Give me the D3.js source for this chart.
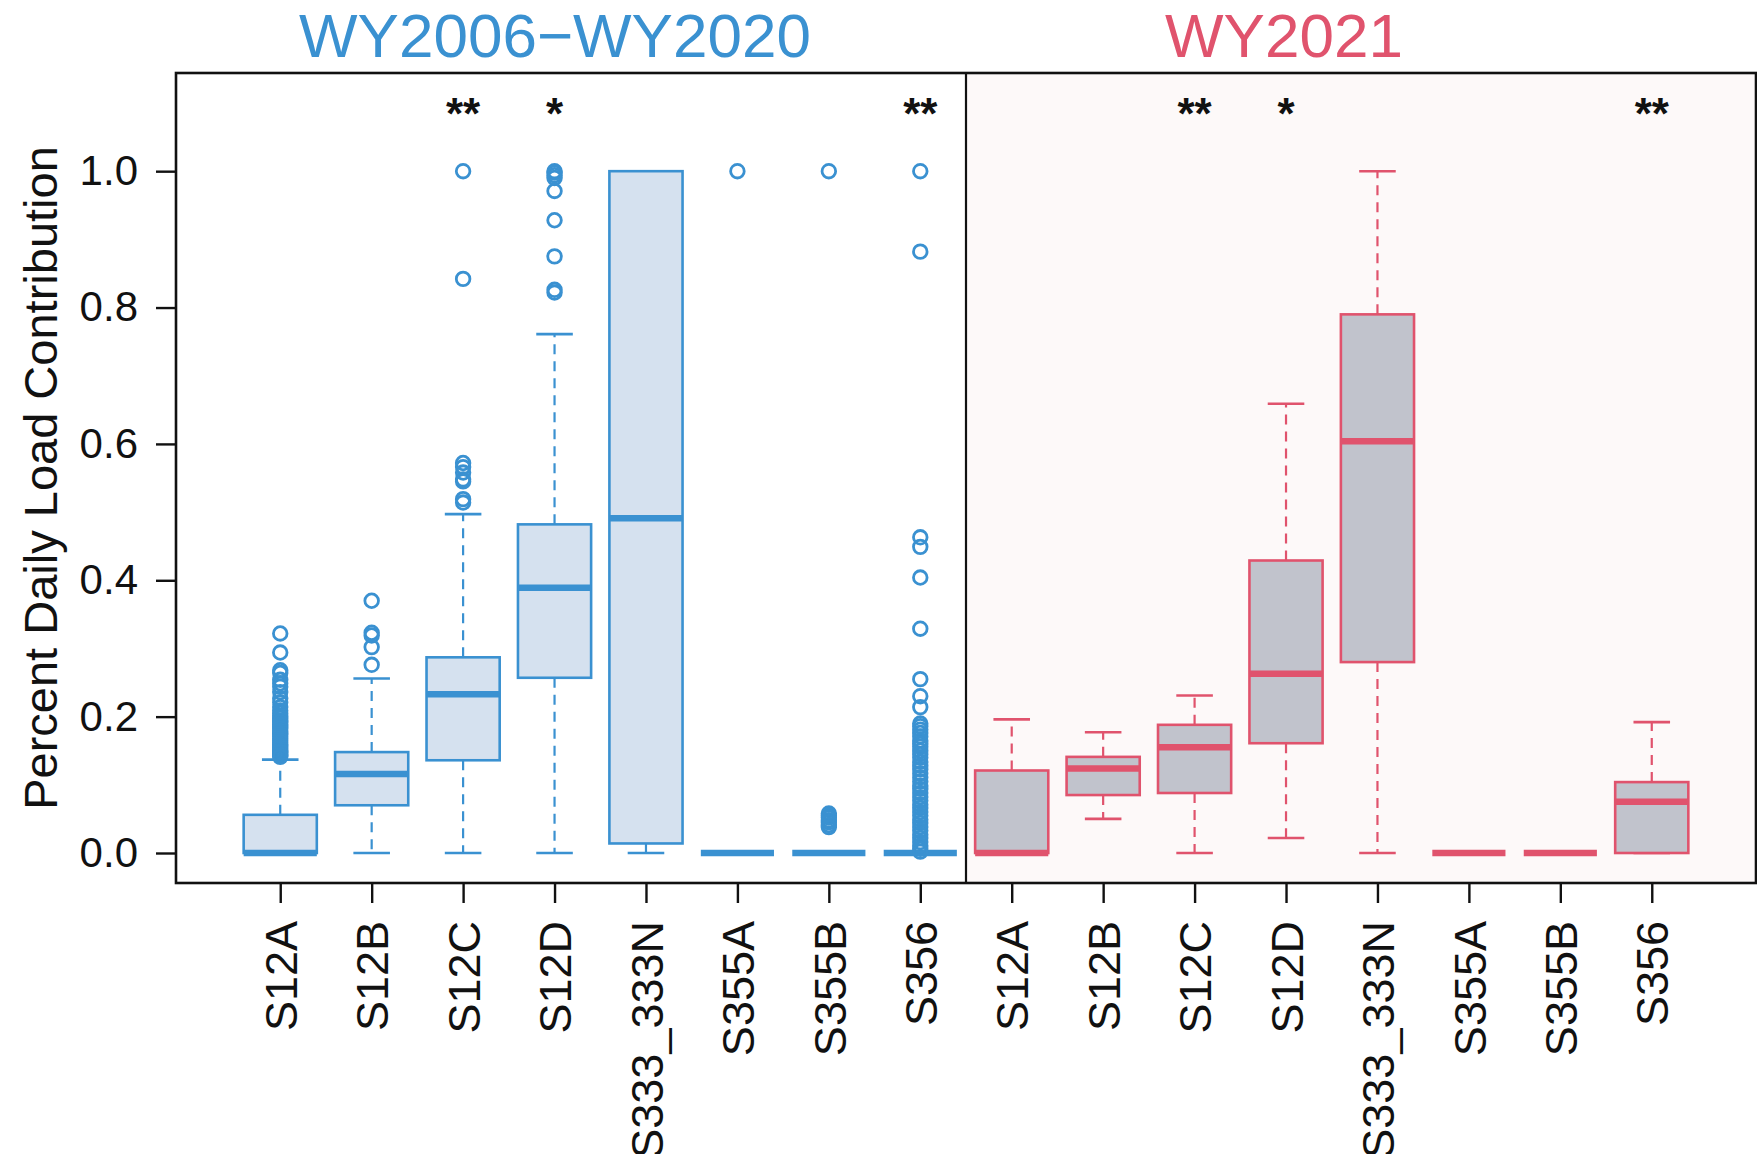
<!DOCTYPE html>
<html>
<head>
<meta charset="utf-8">
<script src="https://cdn.jsdelivr.net/npm/d3@7"></script>
<style>
	body { margin: 0; background: #fff; }
	svg { display: block; }
	text { font-family: "Liberation Sans", Arial, Helvetica, sans-serif; }
</style>
</head>
<body>
<svg id="chart" width="1757" height="1154"></svg>
<script>
// sites shown in each panel
const sites = ["S12A", "S12B", "S12C", "S12D", "S333_333N", "S355A", "S355B", "S356"];
const periods = ["WY2006\u2212WY2020", "WY2021"];

// [lower whisker, Q1, median, Q3, upper whisker]
const statsHist = [
	[0, 0, 0, 0.056, 0.137],
	[0, 0.070, 0.116, 0.148, 0.256],
	[0, 0.136, 0.233, 0.287, 0.497],
	[0, 0.257, 0.389, 0.482, 0.761],
	[0, 0.014, 0.491, 1.0, 1.0],
	[0, 0, 0, 0, 0],
	[0, 0, 0, 0, 0],
	[0, 0, 0, 0, 0]
];
const statsWY2021 = [
	[0, 0, 0, 0.121, 0.196],
	[0.050, 0.085, 0.124, 0.141, 0.177],
	[0, 0.088, 0.155, 0.188, 0.231],
	[0.022, 0.161, 0.263, 0.429, 0.659],
	[0, 0.280, 0.604, 0.790, 1.0],
	[0, 0, 0, 0, 0],
	[0, 0, 0, 0, 0],
	[0, 0, 0.075, 0.104, 0.192]
];

const outliersHist = [
	[0.322, 0.294, 0.268, 0.264, 0.254, 0.249, 0.244, 0.236, 0.227, 0.221, 0.214, 0.209, 0.205, 0.201,
	 0.198, 0.194, 0.192, 0.188, 0.185, 0.183, 0.179, 0.176, 0.174, 0.171, 0.168, 0.165, 0.162, 0.159,
	 0.157, 0.154, 0.151, 0.149, 0.147, 0.145, 0.143, 0.141],
	[0.370, 0.323, 0.319, 0.302, 0.276],
	[1.0, 0.842, 0.572, 0.566, 0.558, 0.548, 0.545, 0.519, 0.514],
	[1.0, 0.998, 0.994, 0.990, 0.971, 0.928, 0.875, 0.826, 0.822],
	[],
	[1.0],
	[1.0, 0.058, 0.055, 0.052, 0.048, 0.045, 0.041, 0.038],
	[1.0, 0.882, 0.463, 0.449, 0.404, 0.329, 0.255, 0.230, 0.214, 0.190, 0.186, 0.181, 0.176, 0.171,
	 0.165, 0.160, 0.156, 0.150, 0.145, 0.140, 0.134, 0.128, 0.123, 0.117, 0.111, 0.105, 0.099, 0.094,
	 0.088, 0.082, 0.077, 0.071, 0.066, 0.060, 0.055, 0.049, 0.044, 0.038, 0.033, 0.027, 0.022, 0.016,
	 0.011, 0.006, 0.002]
];
const outliersWY2021 = [[], [], [], [], [], [], [], []];

// significance marks above each site
const stars = ["", "", "**", "*", "", "", "", "**"];

const yTicks = [0, 0.2, 0.4, 0.6, 0.8, 1.0];

const BLUE = "#3a91d1", BLUE_FILL = "#d5e1ef";
const RED = "#e0536d", RED_FILL = "#c1c3cc";
const PANEL_BG = "#fdf9f9";

const frame = {left: 176, top: 73, right: 1756, bottom: 883};
const n = sites.length;

const x = d3.scaleLinear().domain([-0.14, 2 * n + 1.14]).range([frame.left, frame.right]);
const y = d3.scaleLinear().domain([-0.044, 1.144]).range([frame.bottom, frame.top]);

const boxes = [];
[statsHist, statsWY2021].forEach((stats, p) => {
	stats.forEach((s, i) => {
		boxes.push({
			pos: p * n + i + 1,
			period: p,
			lo: s[0], q1: s[1], med: s[2], q3: s[3], hi: s[4],
			out: (p === 0 ? outliersHist : outliersWY2021)[i],
			star: stars[i]
		});
	});
});

const svg = d3.select("#chart");
svg.append("rect").attr("width", 1757).attr("height", 1154).attr("fill", "#fff");

// light background for the WY2021 panel
svg.append("rect")
	.attr("x", x(n + 0.5)).attr("y", frame.top)
	.attr("width", frame.right - x(n + 0.5))
	.attr("height", frame.bottom - frame.top)
	.attr("fill", PANEL_BG);

const BOX_W = 0.8, CAP_W = 0.4;
const stroke = d => d.period === 0 ? BLUE : RED;

const g = svg.append("g");
const bx = g.selectAll("g.box").data(boxes).join("g").attr("class", "box");

// dashed whiskers
bx.selectAll("line.whisker")
	.data(d => [[d, d.q3, d.hi], [d, d.q1, d.lo]])
	.join("line")
	.attr("class", "whisker")
	.attr("x1", ([d]) => x(d.pos)).attr("x2", ([d]) => x(d.pos))
	.attr("y1", ([, a]) => y(a)).attr("y2", ([, , b]) => y(b))
	.attr("stroke", ([d]) => stroke(d))
	.attr("stroke-width", 2.2)
	.attr("stroke-dasharray", "10,7");

// whisker caps
bx.selectAll("line.cap")
	.data(d => [[d, d.hi], [d, d.lo]])
	.join("line")
	.attr("class", "cap")
	.attr("x1", ([d]) => x(d.pos - CAP_W / 2)).attr("x2", ([d]) => x(d.pos + CAP_W / 2))
	.attr("y1", ([, v]) => y(v)).attr("y2", ([, v]) => y(v))
	.attr("stroke", ([d]) => stroke(d))
	.attr("stroke-width", 2.6);

bx.append("rect")
	.attr("x", d => x(d.pos - BOX_W / 2))
	.attr("width", d => x(d.pos + BOX_W / 2) - x(d.pos - BOX_W / 2))
	.attr("y", d => y(d.q3))
	.attr("height", d => y(d.q1) - y(d.q3))
	.attr("fill", d => d.period === 0 ? BLUE_FILL : RED_FILL)
	.attr("stroke", stroke)
	.attr("stroke-width", 2.6);

bx.append("line")
	.attr("x1", d => x(d.pos - BOX_W / 2)).attr("x2", d => x(d.pos + BOX_W / 2))
	.attr("y1", d => y(d.med)).attr("y2", d => y(d.med))
	.attr("stroke", stroke)
	.attr("stroke-width", 6.5);

bx.selectAll("circle")
	.data(d => d.out.map(v => ({pos: d.pos, v, period: d.period})))
	.join("circle")
	.attr("cx", d => x(d.pos))
	.attr("cy", d => y(d.v))
	.attr("r", 6.8)
	.attr("fill", "none")
	.attr("stroke", stroke)
	.attr("stroke-width", 2.8);

// significance stars
g.selectAll("text.star")
	.data(boxes.filter(d => d.star))
	.join("text")
	.attr("class", "star")
	.attr("x", d => x(d.pos))
	.attr("y", y(1.1) + 26)
	.attr("text-anchor", "middle")
	.attr("font-size", 44)
	.attr("font-weight", "bold")
	.attr("fill", "#111")
	.text(d => d.star);

// frame and panel divider
svg.append("rect")
	.attr("x", frame.left).attr("y", frame.top)
	.attr("width", frame.right - frame.left)
	.attr("height", frame.bottom - frame.top)
	.attr("fill", "none")
	.attr("stroke", "#111")
	.attr("stroke-width", 2.6);
svg.append("line")
	.attr("x1", x(n + 0.5)).attr("x2", x(n + 0.5))
	.attr("y1", frame.top).attr("y2", frame.bottom)
	.attr("stroke", "#111")
	.attr("stroke-width", 2.2);

// axes
const yAxis = svg.append("g")
	.attr("transform", `translate(${frame.left},0)`)
	.call(d3.axisLeft(y).tickValues(yTicks).tickFormat(d3.format(".1f")).tickSize(20).tickPadding(18));
yAxis.select(".domain").remove();
yAxis.selectAll(".tick line").attr("stroke", "#111").attr("stroke-width", 2.4);
yAxis.selectAll(".tick text")
	.attr("font-size", 42)
	.attr("fill", "#111")
	.attr("font-family", "\"Liberation Sans\", Arial, sans-serif");

const xAxis = svg.append("g")
	.attr("transform", `translate(0,${frame.bottom})`)
	.call(d3.axisBottom(x).tickValues(d3.range(1, 2 * n + 1)).tickFormat(i => sites[(i - 1) % n]).tickSize(20));
xAxis.select(".domain").remove();
xAxis.selectAll(".tick line").attr("stroke", "#111").attr("stroke-width", 2.4);
xAxis.selectAll(".tick text")
	.attr("font-size", 45)
	.attr("fill", "#111")
	.attr("font-family", "\"Liberation Sans\", Arial, sans-serif")
	.attr("transform", "rotate(-90)")
	.attr("text-anchor", "end")
	.attr("x", -38)
	.attr("y", 0)
	.attr("dy", "0.36em");

svg.append("text")
	.attr("transform", `translate(57,${(frame.top + frame.bottom) / 2}) rotate(-90)`)
	.attr("text-anchor", "middle")
	.attr("font-size", 47)
	.attr("fill", "#111")
	.text("Percent Daily Load Contribution");

// period titles
svg.selectAll("text.title")
	.data(periods)
	.join("text")
	.attr("class", "title")
	.attr("x", (d, i) => i === 0 ? 555 : 1284)
	.attr("y", 57)
	.attr("text-anchor", "middle")
	.attr("font-size", 62)
	.attr("fill", (d, i) => i === 0 ? BLUE : RED)
	.text(d => d);
</script>
</body>
</html>
